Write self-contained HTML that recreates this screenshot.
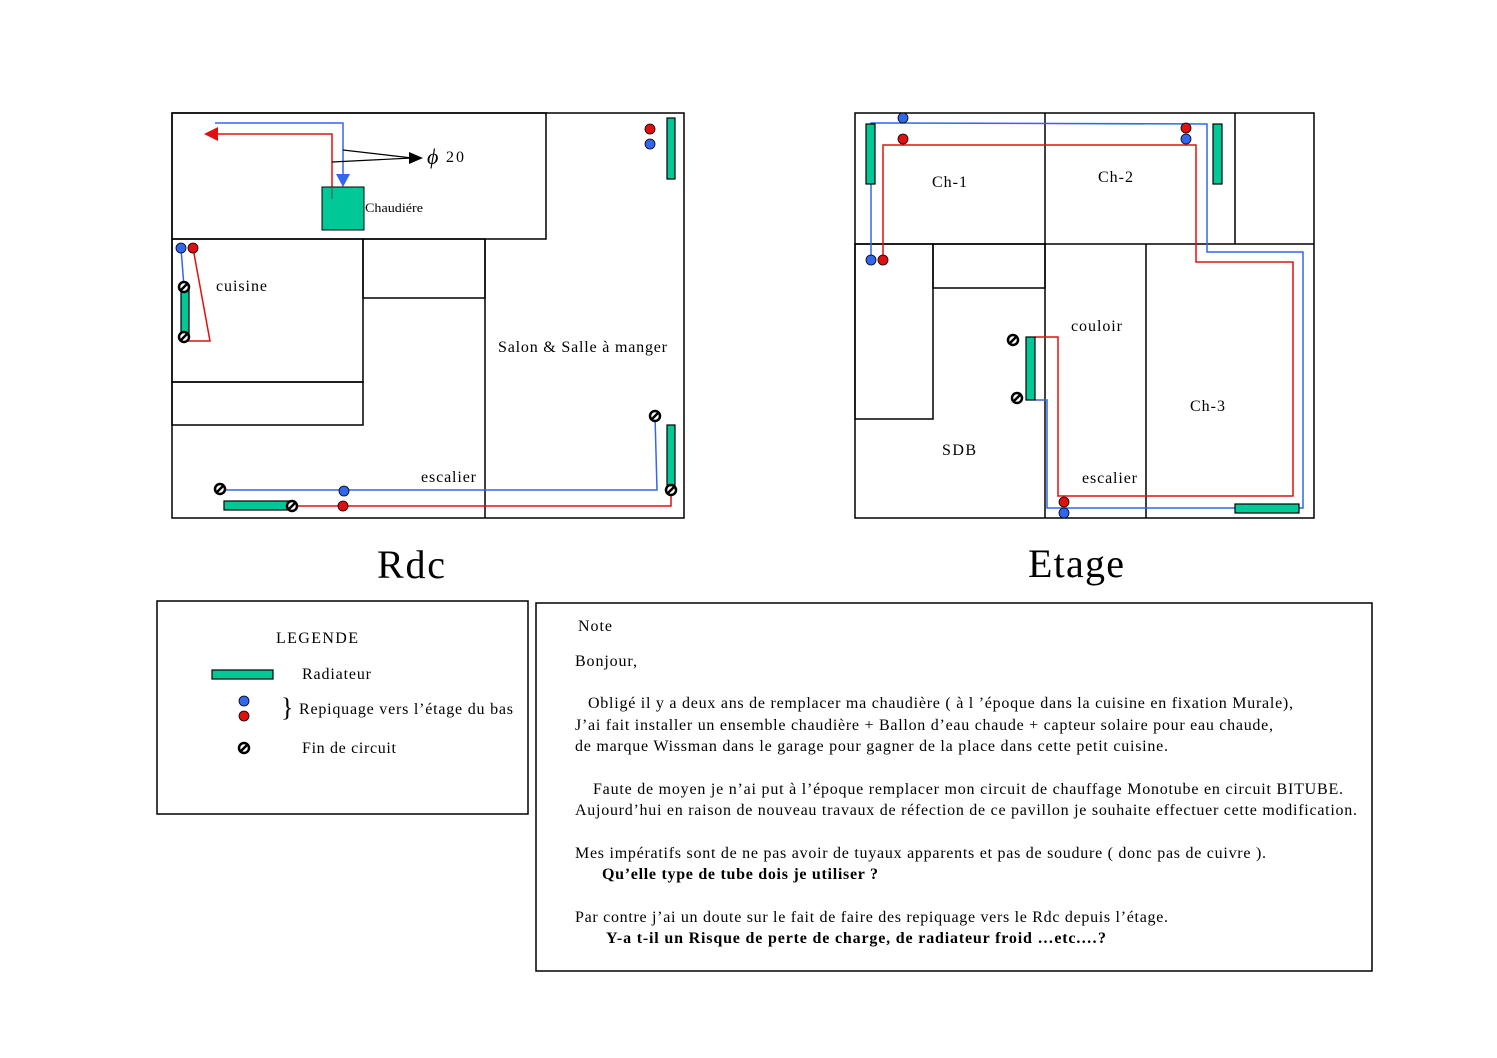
<!DOCTYPE html>
<html><head><meta charset="utf-8"><style>
body{margin:0;background:#fff}
svg{display:block;font-family:"Liberation Serif",serif}
</style></head><body>
<svg width="1497" height="1058" viewBox="0 0 1497 1058" xmlns="http://www.w3.org/2000/svg">
<defs>
<g id="fin"><circle r="5" fill="#fff" stroke="#000" stroke-width="2.5"/><line x1="-3" y1="3" x2="3" y2="-3" stroke="#000" stroke-width="2.5"/></g>
</defs>
<g fill="none" stroke="#000" stroke-width="1.5">
<rect x="172" y="113" width="512" height="405"/>
<rect x="172" y="113" width="374" height="126"/>
<rect x="172" y="239" width="191" height="143"/>
<rect x="172" y="382" width="191" height="43"/>
<rect x="363" y="239" width="122" height="59"/>
<line x1="485" y1="239" x2="485" y2="518"/>
<rect x="855" y="113" width="459" height="405"/>
<line x1="855" y1="244" x2="1314" y2="244"/>
<line x1="1045" y1="113" x2="1045" y2="518"/>
<line x1="1235" y1="113" x2="1235" y2="244"/>
<line x1="1146" y1="244" x2="1146" y2="518"/>
<rect x="855" y="244" width="78" height="175"/>
<rect x="933" y="244" width="112" height="44"/>
<rect x="157" y="601" width="371" height="213"/>
<rect x="536" y="603" width="836" height="368"/>
</g>
<g fill="none" stroke-width="1.5">
<polyline points="215,123 343,123 343,178" stroke="#3366ee"/>
<polyline points="215,134 332,134 332,199" stroke="#e01010"/>
<polyline points="181,248 184,287" stroke="#3366ee"/>
<polyline points="193,248 210,341 184,341" stroke="#e01010"/>
<polyline points="655,416 657,490 220,490" stroke="#3366ee"/>
<polyline points="292,506 671,506 671,490" stroke="#e01010"/>
<polyline points="871,260 871,123 1207,124 1207,252 1303,252 1303,508 1047,508 1047,400 1035,400" stroke="#3366ee"/>
<polyline points="883,260 883,145 1196,145 1196,262 1293,262 1293,496 1058,496 1058,337 1035,337" stroke="#e01010"/>
</g>
<polygon points="204,134 218,127 218,141" fill="#e01010"/>
<polygon points="343,187 336,174 350,174" fill="#3366ee"/>
<g stroke="#000" stroke-width="1.2"><line x1="343" y1="150" x2="412" y2="158"/><line x1="332" y1="162" x2="412" y2="158"/></g>
<polygon points="423,158 409,152 409,164" fill="#000"/>
<text x="427" y="164" font-size="22" font-style="italic">ϕ</text><text x="446" y="162" font-size="16" textLength="18">20</text>
<rect x="322" y="187" width="42" height="43" fill="#00c896" stroke="#000" stroke-width="1"/>
<line x1="332" y1="187" x2="332" y2="199" stroke="#555"/>
<text x="365" y="212" font-size="13" textLength="58" lengthAdjust="spacingAndGlyphs">Chaudiére</text>
<g fill="#00c896" stroke="#000" stroke-width="1.2">
<rect x="667" y="118" width="8" height="61"/>
<rect x="181" y="287" width="8" height="50"/>
<rect x="667" y="425" width="8" height="60"/>
<rect x="224" y="501" width="66" height="9"/>
<rect x="866" y="124" width="9" height="60"/>
<rect x="1213" y="124" width="9" height="60"/>
<rect x="1026" y="337" width="9" height="63"/>
<rect x="1235" y="504" width="64" height="9"/>
<rect x="212" y="670" width="61" height="9"/>
</g>
<g stroke="#000" stroke-width="0.8">
<circle cx="650" cy="129" r="5" fill="#e01010"/><circle cx="650" cy="144" r="5" fill="#3366ee"/>
<circle cx="181" cy="248" r="5" fill="#3366ee"/><circle cx="193" cy="248" r="5" fill="#e01010"/>
<circle cx="344" cy="491" r="5" fill="#3366ee"/><circle cx="343" cy="506" r="5" fill="#e01010"/>
<circle cx="903" cy="118" r="5" fill="#3366ee"/><circle cx="903" cy="139" r="5" fill="#e01010"/>
<circle cx="1186" cy="128" r="5" fill="#e01010"/><circle cx="1186" cy="139" r="5" fill="#3366ee"/>
<circle cx="871" cy="260" r="5" fill="#3366ee"/><circle cx="883" cy="260" r="5" fill="#e01010"/>
<circle cx="1064" cy="502" r="5" fill="#e01010"/><circle cx="1064" cy="513" r="5" fill="#3366ee"/>
<circle cx="244" cy="701" r="5" fill="#3366ee"/><circle cx="244" cy="716" r="5" fill="#e01010"/>
</g>
<use href="#fin" x="184" y="287"/><use href="#fin" x="184" y="337"/>
<use href="#fin" x="655" y="416"/><use href="#fin" x="671" y="490"/>
<use href="#fin" x="220" y="489"/><use href="#fin" x="292" y="506"/>
<use href="#fin" x="1013" y="340"/><use href="#fin" x="1017" y="398"/>
<use href="#fin" x="244" y="748"/>
<g font-size="16" lengthAdjust="spacing">
<text x="216" y="291" textLength="51">cuisine</text>
<text x="498" y="352" textLength="169">Salon &amp; Salle à manger</text>
<text x="421" y="482" textLength="55">escalier</text>
<text x="932" y="187" textLength="35">Ch-1</text>
<text x="1098" y="182" textLength="35">Ch-2</text>
<text x="1071" y="331" textLength="51">couloir</text>
<text x="1190" y="411" textLength="35">Ch-3</text>
<text x="942" y="455" textLength="34">SDB</text>
<text x="1082" y="483" textLength="55">escalier</text>
</g>
<text x="377" y="578" font-size="40" textLength="68">Rdc</text>
<text x="1028" y="577" font-size="40" textLength="96">Etage</text>
<g font-size="16">
<text x="276" y="643" textLength="82">LEGENDE</text>
<text x="302" y="679" textLength="69">Radiateur</text>
<text x="281" y="716" font-size="26">}</text>
<text x="299" y="714" textLength="214">Repiquage vers l’étage du bas</text>
<text x="302" y="753" textLength="94">Fin de circuit</text>
<text x="578" y="631" textLength="34">Note</text>
<text x="575" y="666" textLength="62">Bonjour,</text>
<text x="588" y="708" textLength="705">Obligé il y a deux ans de remplacer ma chaudière ( à l ’époque dans la cuisine en fixation Murale),</text>
<text x="575" y="730" textLength="698">J’ai fait installer un ensemble chaudière + Ballon d’eau chaude + capteur solaire pour eau chaude,</text>
<text x="575" y="751" textLength="593">de marque Wissman dans le garage pour gagner de la place dans cette petit cuisine.</text>
<text x="593" y="794" textLength="750">Faute de moyen je n’ai put à l’époque remplacer mon circuit de chauffage Monotube en circuit BITUBE.</text>
<text x="575" y="815" textLength="782">Aujourd’hui en raison de nouveau travaux de réfection de ce pavillon je souhaite effectuer cette modification.</text>
<text x="575" y="858" textLength="691">Mes impératifs sont de ne pas avoir de tuyaux apparents et pas de soudure ( donc pas de cuivre ).</text>
<text x="602" y="879" font-weight="bold" textLength="276">Qu’elle type de tube dois je utiliser ?</text>
<text x="575" y="922" textLength="593">Par contre j’ai un doute sur le fait de faire des repiquage vers le Rdc depuis l’étage.</text>
<text x="606" y="943" font-weight="bold" textLength="500">Y-a t-il un Risque de perte de charge, de radiateur froid …etc.…?</text>
</g>
</svg>
</body></html>
